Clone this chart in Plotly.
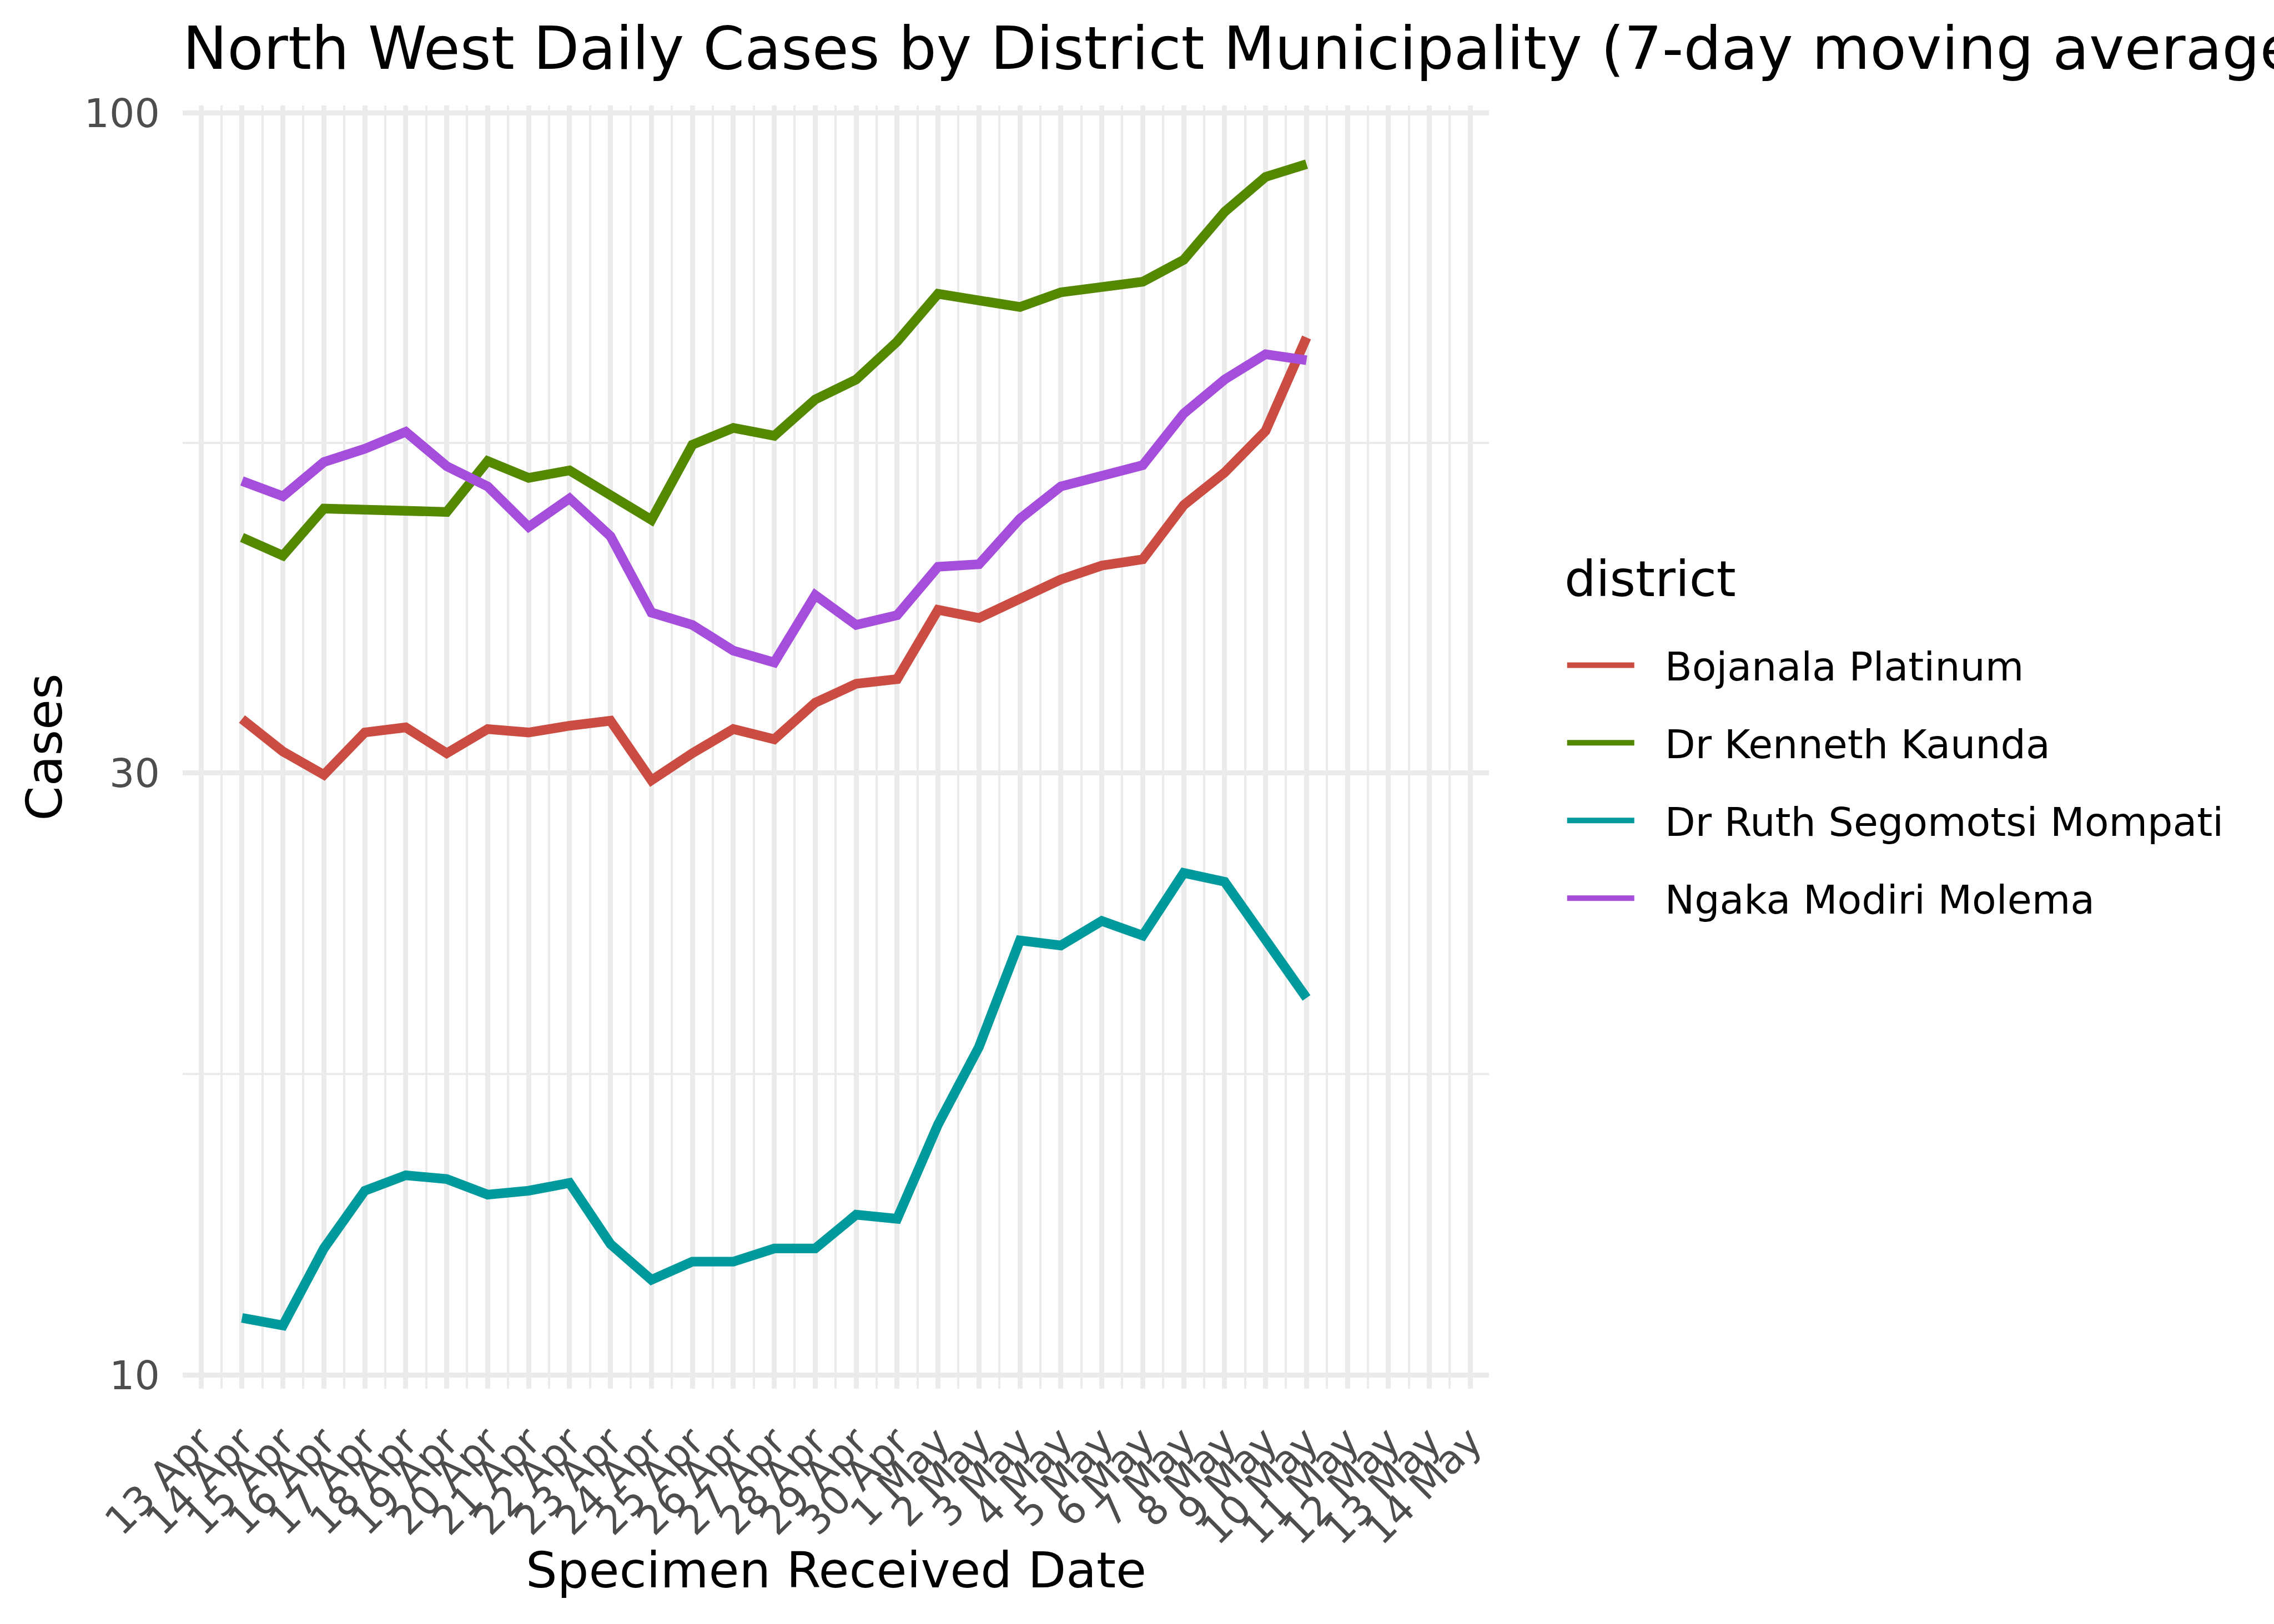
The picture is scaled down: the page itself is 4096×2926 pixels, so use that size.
import math
import pandas as pd
import plotly.graph_objects as go

S = 0.975  # scale from 4200x3000 reference to 4096x2926 window

# ---------------- data ----------------
dates = pd.date_range("2020-04-14", "2020-05-10", freq="D")

bojanala = [33.1, 31.2, 29.9, 32.3, 32.6, 31.1, 32.5, 32.3, 32.7, 33.0, 29.6, 31.1, 32.5, 31.9,
            34.1, 35.3, 35.6, 40.4, 39.8, 41.3, 42.7, 43.8, 44.3, 48.9, 51.9, 56.0, 66.4]
kenneth = [46.1, 44.6, 48.6, 48.5, 48.4, 48.3, 53.0, 51.4, 52.1, 49.8, 47.6, 54.6, 56.3, 55.5,
           59.3, 61.5, 65.9, 71.9, 70.9, 70.2, 72.1, 72.8, 73.5, 76.5, 83.5, 89.0, 91.1]
ruth = [11.1, 10.95, 12.6, 14.0, 14.4, 14.3, 13.9, 14.0, 14.2, 12.7, 11.9, 12.3, 12.3, 12.6,
        12.6, 13.4, 13.3, 15.8, 18.2, 22.1, 21.9, 22.9, 22.3, 25.0, 24.6, 22.2, 19.9]
ngaka = [51.1, 49.7, 52.9, 54.2, 55.9, 52.5, 50.6, 47.0, 49.5, 46.2, 40.2, 39.3, 37.5, 36.7,
         41.5, 39.3, 40.0, 43.7, 43.9, 47.7, 50.6, 51.6, 52.6, 57.8, 61.5, 64.4, 63.7]

districts = ["Bojanala Platinum", "Dr Kenneth Kaunda", "Dr Ruth Segomotsi Mompati", "Ngaka Modiri Molema"]
series = [bojanala, kenneth, ruth, ngaka]
colors = ["#CB4C42", "#548800", "#00999C", "#A54EDC"]

tick_dates = pd.date_range("2020-04-13", "2020-05-14", freq="D")
tick_labels = [f"{d.day} {d.strftime('%b')}" for d in tick_dates]
minor_dates = tick_dates[:-1] + pd.Timedelta(hours=12)

y_ticks = [10, 30, 100]
y_tick_labels = ["10", "30", "100"]
y_minor = [math.sqrt(10 * 30), math.sqrt(30 * 100)]

title_text = "North West Daily Cases by District Municipality (7-day moving average)"
x_title = "Specimen Received Date"
y_title = "Cases"
legend_title = "district"

# ---------------- geometry (reference px * S) ----------------
W, H = 4096, 2926
pl, pr, pt, pb = 337 * S, 2751 * S, 195 * S, 2566 * S
PW, PH = pr - pl, pb - pt
FONT = "DejaVu Sans"
TICK = 73.3 * S
AXT = 91.67 * S
TTL = 110 * S
GRID = "#EBEBEB"
GAP = "\u2002\u2009"  # space between legend key and its label

fig = go.Figure()
for name, vals, col in zip(districts, series, colors):
    fig.add_trace(go.Scatter(
        x=dates, y=vals, name=GAP + name, mode="lines",
        line=dict(color=col, width=17.78 * S),
        legendgroup=name,
    ))

x0 = tick_dates[0] - pd.Timedelta(days=0.449)
x1 = tick_dates[-1] + pd.Timedelta(days=0.456)

leg_title_left = 2889 * S
leg_title_base = 1102 * S

fig.update_layout(
    width=W, height=H, autosize=False,
    margin=dict(l=pl, r=W - pr, t=pt, b=H - pb, pad=0),
    paper_bgcolor="white", plot_bgcolor="white",
    font=dict(family=FONT, color="black"),
    title=dict(text=title_text, font=dict(size=TTL, family=FONT, color="black"),
               xref="paper", x=0, xanchor="left",
               yref="container", y=1 - (127 * S - 0.7 * TTL) / H, yanchor="top"),
    xaxis=dict(
        type="date", range=[x0, x1],
        tickmode="array", tickvals=tick_dates, ticktext=tick_labels,
        tickangle=-45, tickfont=dict(size=TICK, color="#4D4D4D", family=FONT),
        ticks="", ticklabelstandoff=38,
        showgrid=True, gridcolor=GRID, gridwidth=8.89 * S,
        minor=dict(tickmode="array", tickvals=minor_dates, showgrid=True,
                   gridcolor=GRID, gridwidth=4.45 * S, ticks=""),
        zeroline=False, showline=False,
    ),
    yaxis=dict(
        type="log", range=[1 - 25 / 2332, 2 + 14 / 2332],
        tickmode="array", tickvals=y_ticks, ticktext=y_tick_labels,
        tickfont=dict(size=TICK, color="#4D4D4D", family=FONT),
        ticks="", ticklabelstandoff=40,
        showgrid=True, gridcolor=GRID, gridwidth=8.89 * S,
        minor=dict(tickmode="array", tickvals=y_minor, showgrid=True,
                   gridcolor=GRID, gridwidth=4.45 * S, ticks=""),
        zeroline=False, showline=False,
    ),
    legend=dict(
        font=dict(size=TICK, family=FONT, color="black"),
        xref="container", yref="container",
        x=2890 * S / W, xanchor="left",
        y=1 - (1199 - 53.5) / H, yanchor="top",
        itemwidth=121, tracegroupgap=44, bgcolor="rgba(0,0,0,0)",
    ),
    annotations=[
        dict(text=legend_title, xref="paper", yref="paper",
             x=(leg_title_left - 1 - pl) / PW, y=(pb - (leg_title_base + 0.236 * AXT + 1)) / PH,
             xanchor="left", yanchor="bottom", showarrow=False,
             font=dict(size=AXT, family=FONT, color="black")),
        dict(text=x_title, xref="paper", yref="paper", x=0.5, y=0,
             xanchor="center", yanchor="bottom", yshift=-(2934 * S + 1 + 0.236 * AXT - pb),
             showarrow=False, font=dict(size=AXT, family=FONT, color="black")),
        dict(text=y_title, xref="paper", yref="paper", x=0, y=0.5,
             xanchor="center", yanchor="middle", textangle=-90,
             xshift=(113 * S + 0.236 * AXT / 2 - 0.928 * AXT / 2) - pl,
             showarrow=False, font=dict(size=AXT, family=FONT, color="black")),
    ],
)

fig.write_html("out.html")
